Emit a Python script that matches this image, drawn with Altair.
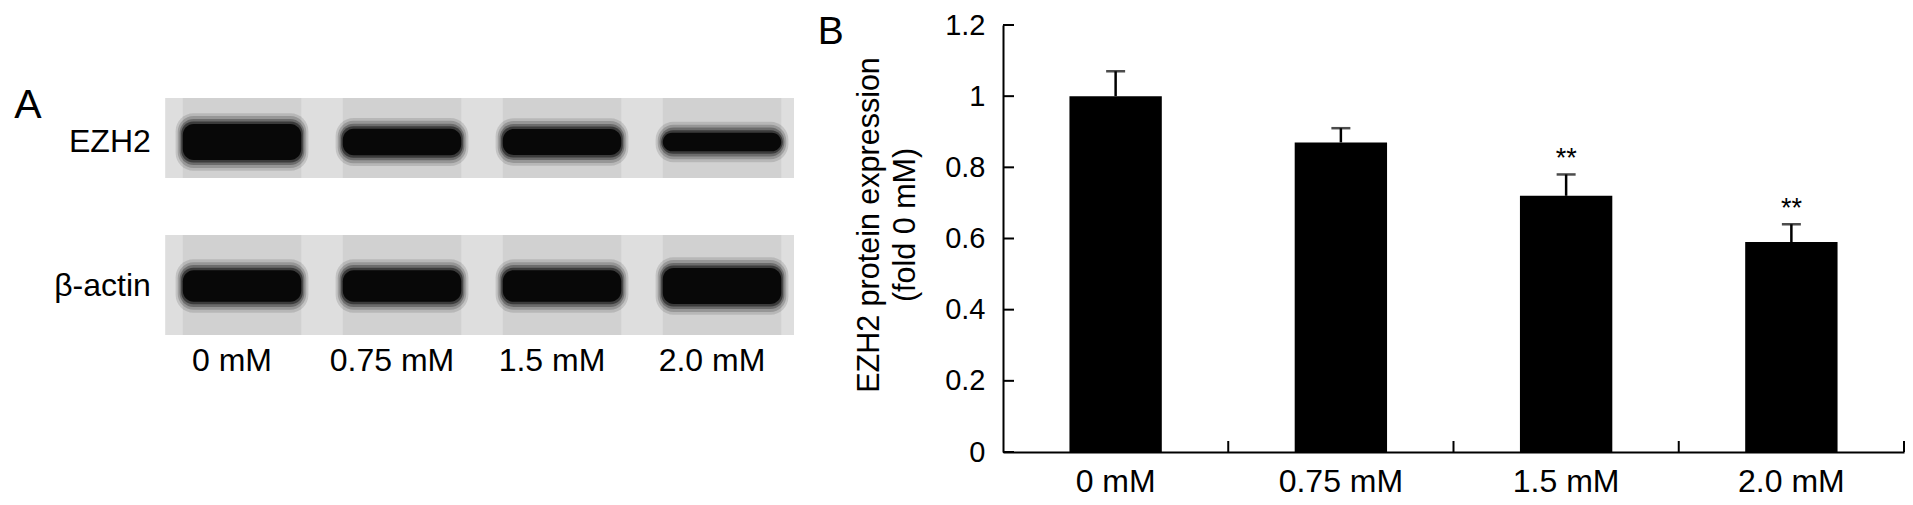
import altair as alt
import pandas as pd

FONT = "Liberation Sans"

# ---------------- data: panel B (bar chart) ----------------
doses = ["0 mM", "0.75 mM", "1.5 mM", "2.0 mM"]
ezh2_mean = [1.00, 0.87, 0.72, 0.59]
ezh2_sem = [0.07, 0.04, 0.06, 0.05]
significance = ["", "", "**", "**"]
y_tick_values = [0, 0.2, 0.4, 0.6, 0.8, 1.0, 1.2]
y_title = ["EZH2 protein expression", "\u00a0" * 8 + "(fold 0 mM)"]

# ---------------- data: panel A (western blot) ----------------
blot_rows = ["EZH2", "β-actin"]
ezh2_band_density = [1.00, 0.74, 0.72, 0.52]
actin_band_density = [0.88, 0.88, 0.88, 1.00]
panel_letters = ["A", "B"]

# ================= Panel A =================
XS = alt.Scale(domain=[-1.4625, 3.7875], nice=False, zero=False)
YS = alt.Scale(domain=[-0.8125, 2.1528], reverse=True, nice=False, zero=False)

lane_idx = list(range(len(doses)))
lanes_df = pd.DataFrame({"lane": lane_idx, "dose": doses})

MEM_TOP = {"EZH2": -0.306, "β-actin": -0.354}
MEM_BOT = {"EZH2": 0.25, "β-actin": 0.34}
membrane_df = pd.DataFrame({"row": blot_rows, "r": list(range(len(blot_rows)))})
membrane_df["y1"] = membrane_df["r"] + membrane_df["row"].map(MEM_TOP)
membrane_df["y2"] = membrane_df["r"] + membrane_df["row"].map(MEM_BOT)
membrane_df["x1"] = min(lane_idx) - 0.48
membrane_df["x2"] = max(lane_idx) + 0.45

streak_df = membrane_df.merge(lanes_df, how="cross")
streak_df["sx1"] = streak_df["lane"] - 0.37
streak_df["sx2"] = streak_df["lane"] + 0.37

band_records = []
for r, (row, dens) in enumerate(zip(blot_rows, [ezh2_band_density, actin_band_density])):
    for i, d in enumerate(dens):
        band_records.append({"row": row, "r": r, "lane": i, "density": d})
band_df = pd.DataFrame(band_records)

BAND_HALF_W = 0.37
BAND_HALF_H = 0.125


def band_layer(pad_x, pad_y, color, opacity, radius):
    return alt.Chart(band_df).transform_calculate(
        bx1=f"datum.lane - {BAND_HALF_W} - {pad_x}",
        bx2=f"datum.lane + {BAND_HALF_W} + {pad_x}",
        by1=f"datum.r - datum.density * {BAND_HALF_H} - {pad_y}",
        by2=f"datum.r + datum.density * {BAND_HALF_H} + {pad_y}",
    ).mark_rect(color=color, opacity=opacity, cornerRadius=radius).encode(
        x=alt.X("bx1:Q", scale=XS, axis=None),
        x2="bx2:Q",
        y=alt.Y("by1:Q", scale=YS, axis=None),
        y2="by2:Q",
    )


membrane = alt.Chart(membrane_df).mark_rect(color="#dedede").encode(
    x=alt.X("x1:Q", scale=XS, axis=None), x2="x2:Q",
    y=alt.Y("y1:Q", scale=YS, axis=None), y2="y2:Q",
)
streaks = alt.Chart(streak_df).mark_rect(color="#c4c4c4", opacity=0.5).encode(
    x=alt.X("sx1:Q", scale=XS, axis=None), x2="sx2:Q",
    y=alt.Y("y1:Q", scale=YS, axis=None), y2="y2:Q",
)
halo_layers = [
    band_layer(0.045, 0.075, "#000000", 0.12, 18),
    band_layer(0.032, 0.055, "#000000", 0.18, 16),
    band_layer(0.02, 0.035, "#000000", 0.28, 14),
    band_layer(0.01, 0.017, "#000000", 0.45, 12),
    band_layer(0.0, 0.0, "#080808", 1.0, 11),
]

row_label_df = pd.DataFrame({"row": blot_rows, "r": list(range(len(blot_rows)))})
row_labels = alt.Chart(row_label_df).mark_text(
    align="right", baseline="middle", fontSize=32, font=FONT, color="black"
).encode(
    x=alt.X(datum=-0.57, scale=XS, axis=None),
    y=alt.Y("r:Q", scale=YS, axis=None),
    text="row:N",
)
lane_labels = alt.Chart(lanes_df).mark_text(
    align="center", baseline="middle", fontSize=32, font=FONT, color="black", dx=-10
).encode(
    x=alt.X("lane:Q", scale=XS, axis=None),
    y=alt.Y(datum=1.52, scale=YS, axis=None),
    text="dose:N",
)
letters_df = pd.DataFrame({"letter": panel_letters, "lx": [-1.3375, 3.68], "ly": [-0.167, -0.6806]})
letters = alt.Chart(letters_df).mark_text(
    align="center", baseline="alphabetic", fontSize=40, font=FONT, color="black"
).encode(
    x=alt.X("lx:Q", scale=XS, axis=None),
    y=alt.Y("ly:Q", scale=YS, axis=None),
    text="letter:N",
    size=alt.Size("letter:N", scale=alt.Scale(domain=panel_letters, range=[41, 39]), legend=None),
)

blot = alt.layer(
    membrane, streaks, *halo_layers, row_labels, lane_labels, letters
).properties(width=840, height=427)

# ================= Panel B =================
bar_df = pd.DataFrame({"dose": doses, "mean": ezh2_mean, "sem": ezh2_sem, "sig": significance})
bar_df["upper"] = bar_df["mean"] + bar_df["sem"]
ticks_df = pd.DataFrame({"t": y_tick_values})

XB = alt.Scale(domain=doses, paddingInner=0, paddingOuter=0)
YB = alt.Scale(domain=[0, 1.2], nice=False)
H = 427

x_axis = alt.Axis(
    title=None, labelAngle=0, labelFontSize=32, labelPadding=14, labelFont=FONT,
    labelColor="black", ticks=False, tickSize=0, domainColor="black", domainWidth=2,
    grid=False, labelOverlap=False,
)
y_axis = alt.Axis(
    values=y_tick_values, format="~g",
    title=y_title,
    titleFont=FONT, titleFontSize=30.5, titleFontWeight="normal", titleColor="black",
    titleLineHeight=36, titleX=-134, titleY=199.5, titleAngle=270,
    titleAlign="center", titleBaseline="middle",
    labelFontSize=29, labelPadding=18, labelFont=FONT, labelColor="black",
    ticks=False, tickSize=0, domainColor="black", domainWidth=2, grid=False,
    labelOverlap=False,
)


def xb(**kw):
    return alt.X("dose:N", sort=doses, scale=XB, axis=x_axis, **kw)


bars = alt.Chart(bar_df).mark_bar(color="black", width=alt.RelativeBandSize(0.41)).encode(
    x=xb(),
    y=alt.Y("mean:Q", scale=YB, axis=y_axis),
)
stems = alt.Chart(bar_df).mark_rule(color="black", strokeWidth=2.5).encode(
    x=xb(),
    y=alt.Y("mean:Q", scale=YB, axis=y_axis),
    y2="upper:Q",
)
caps = alt.Chart(bar_df).mark_tick(color="black", thickness=2.5, size=19).encode(
    x=xb(),
    y=alt.Y("upper:Q", scale=YB, axis=y_axis),
)
stars = alt.Chart(bar_df).mark_text(
    baseline="bottom", fontSize=27, font=FONT, color="black", dy=-1
).encode(
    x=xb(),
    y=alt.Y("upper:Q", scale=YB, axis=y_axis),
    text="sig:N",
)
yticks = alt.Chart(ticks_df).mark_rule(color="black", strokeWidth=2).encode(
    y=alt.Y("t:Q", scale=YB, axis=y_axis),
    x=alt.value(0),
    x2=alt.value(11),
)
xticks = alt.Chart(bar_df).mark_rule(color="black", strokeWidth=2).encode(
    x=xb(bandPosition=1),
    y=alt.value(H),
    y2=alt.value(H - 11),
)

barchart = alt.layer(bars, stems, caps, stars, yticks, xticks).properties(width=901, height=H)

chart = alt.hconcat(blot, barchart, spacing=155, bounds="flush").properties(
    padding={"top": 3, "left": 0, "right": 0, "bottom": 0}
).configure_view(stroke=None)

chart.save("out.html", embed_options={"renderer": "svg", "actions": False})
